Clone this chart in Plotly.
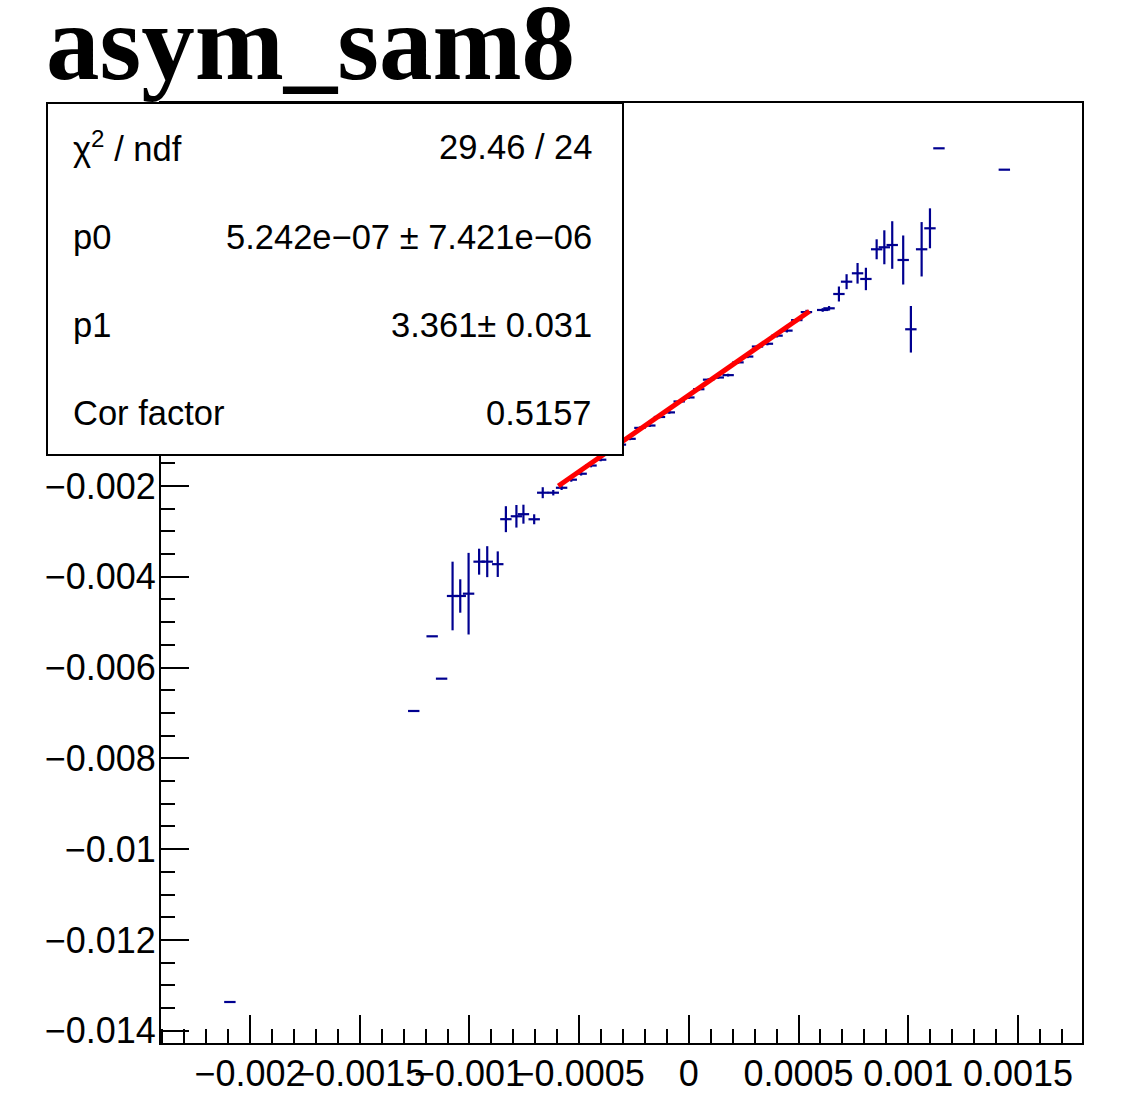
import numpy as np
import plotly.graph_objects as go

# ---- profile points (x, y, y-error) ----
x_low = [-0.002092, -0.001254, -0.001170, -0.001127, -0.001077, -0.001042, -0.001004,
         -0.000956, -0.000919, -0.000871, -0.000834, -0.000786, -0.000754, -0.000705,
         -0.000666, -0.000618]
y_low = [-0.013366, -0.006956, -0.005311, -0.006244, -0.004423, -0.004423, -0.004372,
         -0.003667, -0.003667, -0.003722, -0.002731, -0.002667, -0.002621, -0.002733,
         -0.002148, -0.002148]
ey_low = [0.0, 0.0, 0.0, 0.0, 0.000756, 0.000368, 0.000899,
          0.000286, 0.000341, 0.000282, 0.000286, 0.000249, 0.000209, 0.000110,
          0.000121, 0.000060]

x_mid = [-0.000580, -0.000536, -0.000491, -0.000446, -0.000402, -0.000357, -0.000312,
         -0.000268, -0.000223, -0.000178, -0.000134, -0.000089, -0.000044, 0.000000,
         0.000045, 0.000090, 0.000134, 0.000179, 0.000224, 0.000268, 0.000313,
         0.000358, 0.000402, 0.000447, 0.000492, 0.000536]
y_mid = [-0.002039, -0.001861, -0.001730, -0.001549, -0.001421, -0.001180, -0.001089,
         -0.000961, -0.000720, -0.000668, -0.000480, -0.000379, -0.000138, -0.000050,
         0.000131, 0.000342, 0.000390, 0.000442, 0.000723, 0.000851, 0.001072,
         0.001133, 0.001311, 0.001422, 0.001654, 0.001831]
ey_mid = [0.000050, 0.000045, 0.000040, 0.000040, 0.000035, 0.000035, 0.000030,
          0.000030, 0.000030, 0.000030, 0.000030, 0.000030, 0.000030, 0.000030,
          0.000030, 0.000030, 0.000030, 0.000030, 0.000030, 0.000035, 0.000035,
          0.000035, 0.000040, 0.000040, 0.000045, 0.000050]

x_high = [0.000610, 0.000639, 0.000684, 0.000719, 0.000769, 0.000807, 0.000856,
          0.000891, 0.000927, 0.000977, 0.001012, 0.001061, 0.001099, 0.001140,
          0.001438]
y_high = [0.001877, 0.001914, 0.002229, 0.002500, 0.002685, 0.002560, 0.003214,
          0.003258, 0.003308, 0.002978, 0.001452, 0.003214, 0.003676, 0.005438,
          0.004967]
ey_high = [0.000040, 0.000050, 0.000165, 0.000165, 0.000227, 0.000247, 0.000220,
           0.000374, 0.000524, 0.000540, 0.000513, 0.000599, 0.000440, 0.0,
           0.0]

x_err_half = 0.000026

# ---- linear fit result ----
p0, p0_err = 5.242e-07, 7.421e-06
p1, p1_err = 3.361, 0.031
chi2, ndf = 29.46, 24
cor_factor = 0.5157
fit_range = (-0.000595, 0.000550)

x_pts = x_low + x_mid + x_high
y_pts = y_low + y_mid + y_high
ey_pts = ey_low + ey_mid + ey_high

navy = "#000090"

fig = go.Figure()
fig.add_trace(go.Scatter(
    x=x_pts, y=y_pts, mode="markers",
    marker=dict(size=1, color=navy, opacity=0),
    error_x=dict(type="constant", value=x_err_half, width=0, thickness=2.2, color=navy),
    error_y=dict(type="data", array=ey_pts, width=0, thickness=2.2, color=navy),
    showlegend=False, hoverinfo="x+y",
))

xf = np.linspace(fit_range[0], fit_range[1], 60)
fig.add_trace(go.Scatter(
    x=xf, y=p0 + p1 * xf, mode="lines",
    line=dict(color="#ff0000", width=5),
    showlegend=False,
))

# ---- page geometry (pixels) ----
W, H = 1134, 1112
L, R, T, B = 161, 1082, 103, 1043
pw, ph = R - L, B - T


def px(xp):
    return (xp - L) / pw


def py(yp):
    return (B - yp) / ph


sans = "Liberation Sans, Arial, Helvetica, sans-serif"

x_ticks = [-0.002, -0.0015, -0.001, -0.0005, 0, 0.0005, 0.001, 0.0015]
x_ticktext = ["\u22120.002", "\u22120.0015", "\u22120.001", "\u22120.0005", "0",
              "0.0005", "0.001", "0.0015"]
# upper y labels sit behind the statistics box, so they carry no text
y_ticks = [-0.014, -0.012, -0.01, -0.008, -0.006, -0.004, -0.002, 0, 0.002, 0.004, 0.006]
y_ticktext = ["\u22120.014", "\u22120.012", "\u22120.01", "\u22120.008", "\u22120.006",
              "\u22120.004", "\u22120.002", "", "", "", ""]

fig.update_xaxes(
    range=[-0.002406, 0.001792],
    tickvals=x_ticks, ticktext=x_ticktext, tickangle=0, automargin=False,
    ticks="inside", ticklen=28, tickwidth=2, tickcolor="black",
    minor=dict(ticks="inside", ticklen=14, tickwidth=2, tickcolor="black",
               dtick=0.0001, tick0=0, showgrid=False),
    showline=True, linecolor="black", linewidth=2, mirror=True,
    showgrid=False, zeroline=False,
    tickfont=dict(family=sans, size=36, color="black"),
    ticklabelstandoff=-2,
)
fig.update_yaxes(
    range=[-0.014269, 0.006436],
    tickvals=y_ticks, ticktext=y_ticktext, automargin=False,
    ticks="inside", ticklen=28, tickwidth=2, tickcolor="black",
    minor=dict(ticks="inside", ticklen=14, tickwidth=2, tickcolor="black",
               dtick=0.0005, tick0=0, showgrid=False),
    showline=True, linecolor="black", linewidth=2, mirror=True,
    showgrid=False, zeroline=False,
    tickfont=dict(family=sans, size=36, color="black"),
    ticklabelstandoff=-4,
)

# ---- statistics box ----
box = dict(x0=px(47), x1=px(623), y0=py(455), y1=py(103))
shapes = [dict(type="rect", xref="paper", yref="paper", layer="above",
               fillcolor="white", line=dict(color="black", width=2), **box)]

rows = [
    ("\u03c7<sup>2</sup> / ndf", f"{chi2:.2f} / {ndf}", 147),
    ("p0", "5.242e\u221207 \u00b1 7.421e\u221206", 237),
    ("p1", f"{p1:.3f}\u00b1 {p1_err:.3f}", 325),
    ("Cor factor", f"{cor_factor:.4f}", 413),
]
annotations = []
for name, val, yc in rows:
    annotations.append(dict(text=name, x=px(71), y=py(yc), xref="paper", yref="paper",
                            xanchor="left", yanchor="middle", showarrow=False,
                            font=dict(family=sans, size=34.5, color="black")))
    annotations.append(dict(text=val, x=px(594), y=py(yc), xref="paper", yref="paper",
                            xanchor="right", yanchor="middle", showarrow=False,
                            font=dict(family=sans, size=34.5, color="black")))

annotations.append(dict(text="<b>asym_sam8</b>", x=px(44), y=py(43), xref="paper", yref="paper",
                        xanchor="left", yanchor="middle", showarrow=False,
                        font=dict(family="Liberation Serif, Times New Roman, serif",
                                  size=107, color="black")))

fig.update_layout(
    width=W, height=H,
    margin=dict(l=L, r=W - R, t=T, b=H - B, pad=0, autoexpand=False),
    paper_bgcolor="white", plot_bgcolor="white",
    shapes=shapes, annotations=annotations,
    showlegend=False,
)

fig.write_html("out.html")
